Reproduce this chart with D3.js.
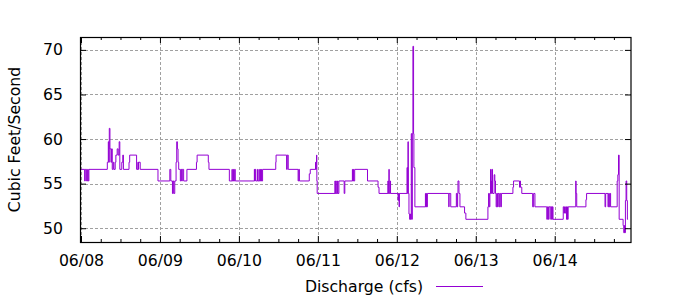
<!DOCTYPE html>
<html>
<head>
<meta charset="utf-8">
<script src="https://cdn.jsdelivr.net/npm/d3@7"></script>
<style>
  body { margin: 0; background: #fff; }
  text { font-family: "DejaVu Sans", sans-serif; fill: #000; }
</style>
</head>
<body>
<div id="chart"></div>
<script>
// discharge readings: [hours after 06/08 00:00, cfs] at each change of value
var readings = [
  [0, 56.6], [1.1, 55.3], [1.3, 56.6], [1.7, 55.3], [2.0, 56.6], [2.2, 55.3], [2.4, 56.6],
  [8.0, 57.4], [8.3, 59.7], [8.45, 57.4], [8.6, 61.2], [8.8, 58.9], [9.1, 57.4], [9.3, 58.9], [9.5, 56.6],
  [9.8, 57.4], [10.0, 56.6], [10.4, 57.4], [10.6, 58.2], [11.0, 58.9], [11.3, 58.2], [11.6, 59.7], [11.8, 56.6],
  [12.4, 57.4], [12.7, 58.2], [12.9, 56.6],
  [14.6, 57.4], [14.8, 58.2], [16.9, 56.6], [17.3, 57.4], [17.4, 56.6], [17.5, 57.4], [18.0, 56.6],
  [23.4, 55.3], [27.0, 56.6], [27.3, 55.3], [27.8, 53.9], [28.0, 55.3], [28.2, 53.9], [28.5, 55.3],
  [28.9, 57.4], [29.1, 59.7], [29.3, 58.9], [29.5, 57.4], [29.7, 56.6],
  [30.2, 55.3], [30.4, 56.6], [30.6, 55.3], [30.8, 56.6], [31.2, 55.3], [32.2, 56.6],
  [35.1, 57.4], [35.3, 58.2], [38.7, 57.4], [38.9, 56.6],
  [45.1, 55.3], [45.9, 56.6], [46.0, 55.3], [46.3, 56.6], [46.4, 55.3], [46.7, 56.6], [46.9, 55.3],
  [52.7, 56.6], [52.8, 55.3], [52.9, 56.6], [53.1, 55.3], [53.6, 56.6], [53.7, 55.3], [54.1, 56.6],
  [54.2, 55.3], [54.5, 56.6], [54.6, 55.3], [54.8, 56.6], [54.9, 55.3], [55.2, 56.6],
  [59.2, 57.4], [59.3, 58.2], [62.5, 56.6], [62.7, 58.2], [63.0, 56.6],
  [66.0, 55.3], [66.2, 56.6], [66.4, 55.3], [69.4, 56.1], [69.7, 56.6],
  [71.3, 57.4], [71.4, 56.6], [71.5, 57.4], [71.6, 58.2], [71.7, 55.3], [71.8, 53.9],
  [77.2, 55.3], [77.3, 53.9], [77.5, 55.3], [77.6, 53.9], [78.0, 55.3], [78.1, 53.9], [78.4, 55.3],
  [80.0, 53.9], [80.2, 55.3],
  [82.5, 56.6], [82.6, 55.3], [82.8, 56.6], [82.9, 55.3], [83.2, 56.6],
  [87.1, 55.3], [90.3, 54.6], [90.6, 53.9], [93.3, 55.3], [93.4, 53.9], [93.6, 56.6], [93.7, 53.9],
  [94.0, 55.3], [94.1, 53.9],
  [96.4, 53.1], [96.5, 53.9], [96.7, 52.4], [96.8, 53.9],
  [99.1, 56.8], [99.3, 53.9], [99.4, 59.7], [99.5, 53.9], [99.7, 51.6], [99.9, 51.0], [100.1, 51.6], [100.2, 51.0],
  [100.4, 60.6], [100.6, 51.0], [100.7, 60.6], [100.9, 70.4], [101.1, 60.6], [101.2, 56.8], [101.5, 52.4],
  [104.7, 53.9], [104.8, 52.4], [105.0, 53.9], [105.1, 52.4], [105.3, 53.9],
  [111.8, 52.4], [111.9, 53.9], [112.4, 52.4],
  [114.1, 53.9], [114.3, 52.4], [114.5, 53.9], [114.6, 55.3], [114.9, 53.9], [115.2, 52.4],
  [116.6, 51.7], [117.0, 51.0],
  [123.7, 52.4], [123.9, 53.9], [124.1, 52.4], [124.3, 53.9], [124.5, 56.6], [124.6, 53.9], [124.8, 55.3],
  [124.9, 56.6], [125.1, 53.9], [125.6, 56.0], [125.8, 55.3], [126.0, 53.9],
  [126.2, 52.4], [126.4, 53.9], [126.6, 52.4], [126.8, 53.9], [127.1, 52.4], [127.3, 53.9], [127.6, 52.4], [127.8, 53.9],
  [131.3, 54.6], [131.5, 55.3], [133.3, 54.6], [133.5, 55.3], [133.6, 54.6], [134.0, 53.9],
  [137.3, 52.4], [137.6, 53.9], [138.0, 52.4],
  [141.6, 51.0], [141.8, 52.4], [142.1, 51.0], [142.3, 52.4], [142.8, 51.0], [143.0, 52.4], [143.2, 51.0],
  [143.3, 52.4], [143.5, 51.0],
  [146.6, 52.4], [146.8, 51.7], [147.0, 52.4], [147.2, 51.7], [147.4, 52.4], [147.6, 51.0], [147.8, 52.4],
  [147.9, 51.0], [148.1, 52.4],
  [150.4, 55.3], [150.5, 53.9], [150.7, 52.4],
  [153.5, 53.2], [153.7, 53.9],
  [159.3, 52.4], [159.5, 53.9], [160.2, 52.4], [160.4, 53.9], [160.6, 52.4], [160.8, 53.9], [161.0, 52.4],
  [163.0, 55.3], [163.2, 56.0], [163.4, 58.2], [163.6, 51.0],
  [164.8, 50.3], [165.0, 49.5], [165.2, 50.3], [165.3, 49.5], [165.5, 53.1], [165.7, 55.3], [165.9, 53.1],
  [166.1, 51.0], [166.3, 51.0]
];

var dayLabels = ["06/08", "06/09", "06/10", "06/11", "06/12", "06/13", "06/14"];
var yTicks = [50, 55, 60, 65, 70];
var seriesName = "Discharge (cfs)";
var yTitle = "Cubic Feet/Second";
var endHours = 167.2;

var margin = { top: 37, right: 69, bottom: 58, left: 80 },
    width = 700 - margin.left - margin.right,
    height = 300 - margin.top - margin.bottom;

var start = new Date(2013, 5, 8);
function hoursToDate(h) { return new Date(start.getTime() + h * 3600e3); }
var parseDay = d3.timeParse("%Y/%m/%d");
var dayDates = dayLabels.map(function (s) { return parseDay("2013/" + s); });

var data = readings.map(function (d) { return { t: hoursToDate(d[0]), v: d[1] }; });

var svg = d3.select("#chart").append("svg")
    .attr("width", 700)
    .attr("height", 300)
    .append("g")
    .attr("transform", "translate(" + margin.left + "," + margin.top + ")");

var x = d3.scaleTime()
    .domain([start, hoursToDate(endHours)])
    .range([1, width]);

var ext = d3.extent(data, function (d) { return d.v; });
var pad = (ext[1] - ext[0]) * 0.05;
var y = d3.scaleLinear()
    .domain([ext[0] - pad, ext[1] + pad])
    .range([height, 0]);

// grid
var grid = svg.append("g").attr("class", "grid");
grid.selectAll(".gx").data(dayDates).enter().append("line")
    .attr("x1", function (d) { return Math.round(x(d)) + 0.5; })
    .attr("x2", function (d) { return Math.round(x(d)) + 0.5; })
    .attr("y1", 0).attr("y2", height);
grid.selectAll(".gy").data(yTicks).enter().append("line")
    .attr("x1", 0).attr("x2", width)
    .attr("y1", function (d) { return Math.round(y(d)) + 0.5; })
    .attr("y2", function (d) { return Math.round(y(d)) + 0.5; });
grid.selectAll("line")
    .attr("stroke", "#a0a0a0")
    .attr("stroke-width", 1)
    .attr("stroke-dasharray", "3,2");

// data line
var line = d3.line()
    .curve(d3.curveStepAfter)
    .x(function (d) { return x(d.t); })
    .y(function (d) { return y(d.v); });

svg.append("path")
    .datum(data)
    .attr("fill", "none")
    .attr("stroke", "#9400d3")
    .attr("stroke-width", 1)
    .attr("d", line);

// minor (6 h) ticks
var minor = d3.timeHour.every(6).range(start, hoursToDate(endHours))
    .filter(function (d) { return d.getHours() !== 0; });

// axes with inward ticks
var xAxis = d3.axisBottom(x).tickValues(dayDates)
    .tickFormat(function (d, i) { return dayLabels[i]; })
    .tickSizeInner(-6).tickSizeOuter(0).tickPadding(13);
svg.append("g").attr("class", "axis")
    .attr("transform", "translate(0," + height + ")")
    .call(xAxis);
svg.append("g").attr("class", "axis")
    .call(d3.axisTop(x).tickValues(dayDates).tickFormat("").tickSizeInner(-6).tickSizeOuter(0));
svg.append("g").attr("class", "axis")
    .attr("transform", "translate(0," + height + ")")
    .call(d3.axisBottom(x).tickValues(minor).tickFormat("").tickSizeInner(-3).tickSizeOuter(0));
svg.append("g").attr("class", "axis")
    .call(d3.axisTop(x).tickValues(minor).tickFormat("").tickSizeInner(-3).tickSizeOuter(0));

svg.append("g").attr("class", "axis")
    .call(d3.axisLeft(y).tickValues(yTicks).tickSizeInner(-6).tickSizeOuter(0).tickPadding(17));
svg.append("g").attr("class", "axis")
    .attr("transform", "translate(" + width + ",0)")
    .call(d3.axisRight(y).tickValues(yTicks).tickFormat("").tickSizeInner(-6).tickSizeOuter(0));

svg.selectAll(".axis .domain").remove();
svg.selectAll(".axis line").attr("stroke", "#000");
svg.selectAll(".axis text")
    .attr("font-family", "DejaVu Sans, sans-serif")
    .attr("font-size", "15.7px")
    .attr("fill", "#000");

// border
svg.append("rect")
    .attr("x", 0.5).attr("y", 0.5)
    .attr("width", width - 0.5).attr("height", height)
    .attr("fill", "none")
    .attr("stroke", "#000")
    .attr("stroke-width", 1.2);

// y title
svg.append("text")
    .attr("transform", "translate(" + (20 - margin.left) + "," + (height / 2) + ") rotate(-90)")
    .attr("text-anchor", "middle")
    .attr("font-size", "15.7px")
    .text(yTitle);

// legend
svg.append("text")
    .attr("x", 423 - margin.left)
    .attr("y", 292 - margin.top)
    .attr("text-anchor", "end")
    .attr("font-size", "15.7px")
    .text(seriesName);
svg.append("line")
    .attr("x1", 436 - margin.left).attr("x2", 483 - margin.left)
    .attr("y1", 286.5 - margin.top).attr("y2", 286.5 - margin.top)
    .attr("stroke", "#9400d3")
    .attr("stroke-width", 1);
</script>
</body>
</html>
